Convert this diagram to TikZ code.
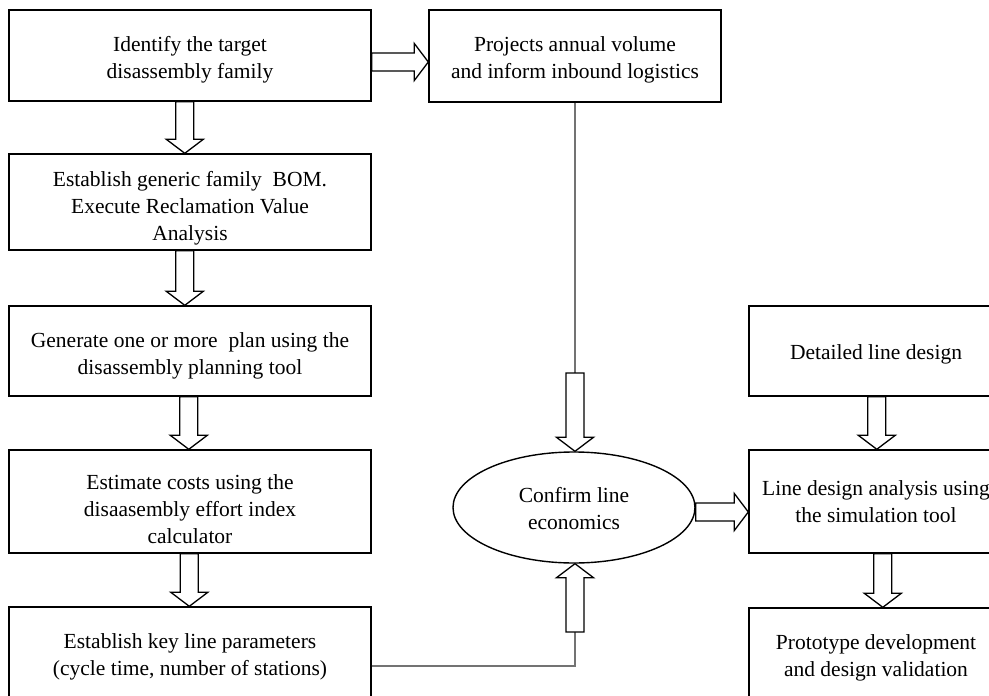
\documentclass[tikz,border=0pt]{standalone}
\usepackage{fontspec}
\setmainfont{Liberation Serif}
\usetikzlibrary{shapes.geometric,calc}

% hollow block arrows between two points (tip at the second point)
\newcommand\blkdown[2]{\path[blk] let \p1=#1, \p2=#2 in
  (\x1-9pt,\y1) -- (\x1-9pt,\y2+14pt) -- (\x1-18.5pt,\y2+14pt) -- (\x1,\y2)
  -- (\x1+18.5pt,\y2+14pt) -- (\x1+9pt,\y2+14pt) -- (\x1+9pt,\y1) -- cycle;}
\newcommand\blkup[2]{\path[blk] let \p1=#1, \p2=#2 in
  (\x1-9pt,\y1) -- (\x1-9pt,\y2-14pt) -- (\x1-18.5pt,\y2-14pt) -- (\x1,\y2)
  -- (\x1+18.5pt,\y2-14pt) -- (\x1+9pt,\y2-14pt) -- (\x1+9pt,\y1) -- cycle;}
\newcommand\blkright[2]{\path[blk] let \p1=#1, \p2=#2 in
  (\x1,\y1+9pt) -- (\x2-14pt,\y1+9pt) -- (\x2-14pt,\y1+18.5pt) -- (\x2,\y1)
  -- (\x2-14pt,\y1-18.5pt) -- (\x2-14pt,\y1-9pt) -- (\x1,\y1-9pt) -- cycle;}

\begin{document}
\begin{tikzpicture}[x=1pt,y=-1pt,
  every node/.style={inner sep=0pt},
  txt/.style={font=\fontsize{21.5}{27}\selectfont, align=center},
  box/.style={draw=black, line width=1.4pt, fill=white, rectangle},
  oval/.style={draw=black, line width=1.4pt, fill=white, ellipse},
  blk/.style={draw=black, line width=1.3pt, fill=white, line join=miter},
  link/.style={draw=black!55, line width=1.2pt}]
\useasboundingbox[fill=white] (0,0) rectangle (989,696);

% left column
\node[box, minimum width=362pt, minimum height=91pt]  (b1) at (190,55.5) {};
\node[box, minimum width=362pt, minimum height=96pt]  (b2) at (190,202) {};
\node[box, minimum width=362pt, minimum height=90pt]  (b3) at (190,351) {};
\node[box, minimum width=362pt, minimum height=103pt] (b4) at (190,501.5) {};
\node[box, minimum width=362pt, minimum height=96pt]  (b5) at (190,655) {};

% middle column
\node[box, minimum width=292pt, minimum height=92pt]  (b6) at (575,56) {};
\node[oval, minimum width=242pt, minimum height=111pt] (ell) at (574,507.5) {};

% right column
\node[box, minimum width=254pt, minimum height=90pt]  (b7) at (876,351) {};
\node[box, minimum width=254pt, minimum height=103pt] (b8) at (876,501.5) {};
\node[box, minimum width=254pt, minimum height=96pt]  (b9) at (876,656) {};

% captions
\node[txt] (t1) at ([yshift=-4pt]b1.center) {Identify the target\\disassembly family};
\node[txt] (t2) at ([yshift=-6pt]b2.center)
  {Establish generic family\ \ BOM.\\Execute Reclamation Value\\Analysis};
\node[txt] (t3) at ([yshift=-5pt]b3.center)
  {Generate one or more\ \ plan using the\\disassembly planning tool};
\node[txt] (t4) at ([yshift=-8pt]b4.center)
  {Estimate costs using the\\disaasembly effort index\\calculator};
\node[txt] (t5) at ([yshift=-2pt]b5.center)
  {Establish key line parameters\\(cycle time, number of stations)};
\node[txt] (t6) at ([yshift=-4pt]b6.center)
  {Projects annual volume\\and inform inbound logistics};
\node[txt] (t7) at ([yshift=-3pt]b7.center) {Detailed line design};
\node[txt] (t8) at (b8.center) {Line design analysis using\\the simulation tool};
\node[txt] (t9) at ([yshift=-2pt]b9.center) {Prototype development\\and design validation};
\node[txt] (te) at ([yshift=-1pt]ell.center) {Confirm line\\economics};

% free ends of the thin feed lines
\coordinate (vin) at (575,373);
\coordinate (vup) at (575,632);

% thin feed lines into the economics check
\draw[link] (b6.south) -- (vin);
\draw[link] ([yshift=-11pt]b5.east) -| (vup);

% block arrows
\blkdown{([xshift=176.5pt]b1.south west)}{(b2.north)}
\blkdown{([xshift=176.5pt]b2.south west)}{(b3.north)}
\blkdown{([xshift=180.5pt]b3.south west)}{(b4.north)}
\blkdown{([xshift=181pt]b4.south west)}{(b5.north)}
\blkright{([yshift=-6.5pt]b1.east)}{(b6.west)}
\blkdown{([xshift=128.5pt]b7.south west)}{(b8.north)}
\blkdown{([xshift=134.5pt]b8.south west)}{(b9.north)}
\blkdown{(vin)}{(ell.north)}
\blkup{(vup)}{(ell.south)}
\blkright{([yshift=-4.5pt]ell.east)}{(b8.west)}
\end{tikzpicture}
\end{document}
